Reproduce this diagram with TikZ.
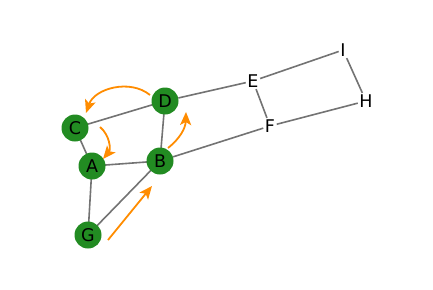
\documentclass[tikz,border=0pt]{standalone}
\usepackage{fontspec}
\setsansfont{DejaVu Sans}
\usetikzlibrary{arrows.meta}
\definecolor{leaf}{HTML}{228B22}
\definecolor{wire}{HTML}{737373}
\definecolor{flow}{HTML}{FF8C00}

\begin{document}
\begin{tikzpicture}[x=1pt, y=-1pt,
      vert/.style={circle, fill=leaf, minimum size=27pt, inner sep=0pt,
                   font=\sffamily\fontsize{17.5}{18}\selectfont},
      tag/.style={fill=white, inner sep=1.5pt,
                  font=\sffamily\fontsize{17.5}{18}\selectfont},
      wire/.style={draw=wire, line width=1.6pt},
      arr/.style={-{Stealth[length=13pt, width=11pt, inset=3pt]}, flow, line width=1.8pt}]
    \useasboundingbox (0,0) rectangle (433,289);
    % edges first, so the nodes sit on top
    \coordinate (pC) at (75,128);  \coordinate (pA) at (92,166);
    \coordinate (pD) at (165,101); \coordinate (pB) at (160,161);
    \coordinate (pG) at (88,235);
    \draw[wire] (pC)--(pD) (pC)--(pA) (pA)--(pB) (pA)--(pG)
                (pG)--(pB) (pD)--(pB);
    \node[vert] (C) at (pC) {C};
    \node[vert] (A) at (pA) {A};
    \node[vert] (D) at (pD) {D};
    \node[vert] (B) at (pB) {B};
    \node[vert] (G) at (pG) {G};
    \node[tag]  (E) at (253,81)  {E};
    \node[tag]  (F) at (270,126) {F};
    \node[tag]  (I) at (343,50)  {I};
    \node[tag]  (H) at (366,101) {H};
    \draw[wire] (D)--(E); \draw[wire] (B)--(F); \draw[wire] (E)--(F);
    \draw[wire] (E)--(I); \draw[wire] (F)--(H); \draw[wire] (I)--(H);
    % moves
    \coordinate (dc0) at (150,95);  \coordinate (dc1) at (86,113);
    \coordinate (ca0) at (100,127); \coordinate (ca1) at (103,159);
    \coordinate (bd0) at (168,148); \coordinate (bd1) at (186,112);
    \coordinate (gb0) at (108,240); \coordinate (gb1) at (152,186);
    \draw[arr] (dc0) to[bend right=55] (dc1);
    \draw[arr] (ca0) to[bend left=45]  (ca1);
    \draw[arr] (bd0) to[bend right=25] (bd1);
    \draw[arr] (gb0) -- (gb1);
  \end{tikzpicture}
\end{document}
